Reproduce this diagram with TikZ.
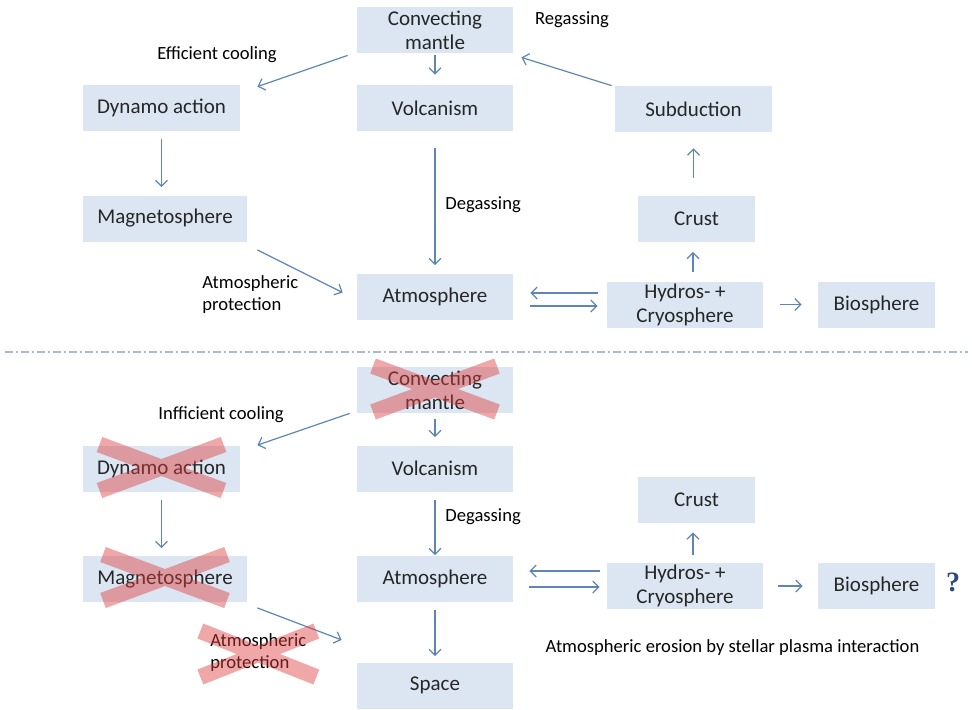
\documentclass[tikz,border=0pt]{standalone}
\usepackage{fontspec}
\setmainfont{Carlito}
\newfontfamily\qfont{Liberation Serif}
\usetikzlibrary{arrows.meta,calc}
\definecolor{boxfill}{HTML}{DCE6F2}
\definecolor{boxtext}{HTML}{262626}
\definecolor{linkblue}{HTML}{5F86B3}
\definecolor{crossred}{RGB}{220,60,60}
\definecolor{sepline}{HTML}{A8BBD3}
\definecolor{qblue}{HTML}{2F4B7C}
\tikzset{
    block/.style = {fill=boxfill, text=boxtext, rectangle,
        minimum height=23pt, minimum width=78pt, inner sep=0pt,
        font=\fontsize{10.5}{12}\selectfont, align=center},
    smallblock/.style = {block, minimum width=58.5pt},
    note/.style = {text=black, inner sep=0pt,
        font=\fontsize{9.3}{11}\selectfont, align=left},
    link/.style = {draw=linkblue, line width=0.6pt,
        -{Straight Barb[length=3pt,width=6pt]}},
    xband/.style = {draw=crossred, line width=8pt, draw opacity=0.45}
}
\newcommand{\strikebox}[1]{%
    \draw[xband] ([shift={(-62,-24)}]#1.center) -- ([shift={(62,22)}]#1.center)
        ([shift={(62,-24)}]#1.center) -- ([shift={(-62,22)}]#1.center);}

\begin{document}
\begin{tikzpicture}[x=0.5pt, y=-0.5pt]
    \useasboundingbox (0,0) rectangle (972,709);
    \fill[white] (0,0) rectangle (972,709);

    % upper cycle
    \node [block] (mantleA) at (435,30) {Convecting\\mantle};
    \node [block] (volcA) at (435,108) {Volcanism};
    \node [block, minimum width=78.5pt] (dynA) at (161.5,108) {Dynamo action};
    \node [block, minimum width=82pt] (magA) at (165,218.5) {Magnetosphere};
    \node [block] (atmA) at (435,296.5) {Atmosphere};
    \node [block, minimum width=78.5pt] (subA) at (693.5,109) {Subduction};
    \node [smallblock] (crustA) at (696.5,218.5) {Crust};
    \node [block] (hydA) at (685,304.5) {Hydros- +\\Cryosphere};
    \node [smallblock] (bioA) at (876.5,304.5) {Biosphere};

    \node [note] (coolA) at (217,55) {Efficient cooling};
    \node [note] (regasA) at (572,20) {Regassing};
    \node [note, anchor=west] (degasA) at (445,205) {Degassing};
    \node [note, anchor=west] (protA) at (202,295) {Atmospheric\\protection};

    \draw [link, shorten <=1pt, shorten >=5pt] (mantleA) -- (volcA);
    \draw [link, shorten <=4pt, shorten >=4pt] (dynA.south) -- (dynA.south |- magA.north);
    \draw [link, shorten <=8.5pt, shorten >=4pt] (volcA) -- (atmA);
    \draw [link, shorten <=8.5pt, shorten >=8pt] (subA.south |- crustA.north) -- (subA.south);
    \draw [link, shorten <=4.5pt, shorten >=5pt] ([xshift=4pt]hydA.north) -- ([xshift=4pt]hydA.north |- crustA.south);
    \draw [link, shorten <=8.5pt, shorten >=8pt] (hydA.east) -- (bioA.west);
    \draw [link] ([shift={(-9,-11.5)}]hydA.west) -- ([shift={(17,-3.5)}]atmA.east);
    \draw [link] ([shift={(17,9.5)}]atmA.east) -- ([shift={(-9,1.5)}]hydA.west);
    \draw [link] ([shift={(-9,2)}]mantleA.south west) -- ([shift={(17,2)}]dynA.north east);
    \draw [link] ([shift={(10,8)}]magA.south east) -- ([shift={(-14,-4)}]atmA.west);
    \draw [link] ([shift={(-3,0)}]subA.north west) -- ([shift={(8,4)}]mantleA.south east);

    % separator
    \coordinate (sepL) at (5,352);
    \coordinate (sepR) at (968,352);
    \draw [sepline, line width=1pt, dash pattern=on 4pt off 1.5pt on 1pt off 1.5pt] (sepL) -- (sepR);

    % lower cycle
    \node [block] (mantleB) at (435,390) {Convecting\\mantle};
    \node [block] (volcB) at (435,468.5) {Volcanism};
    \node [block] (atmB) at (435,578.5) {Atmosphere};
    \node [block] (spaceB) at (435,685.5) {Space};
    \node [block, minimum width=78.5pt] (dynB) at (161.5,468.5) {Dynamo action};
    \node [block, minimum width=82pt] (magB) at (165,578.5) {Magnetosphere};
    \node [smallblock] (crustB) at (696.5,500) {Crust};
    \node [block] (hydB) at (685,586) {Hydros- +\\Cryosphere};
    \node [smallblock] (bioB) at (876.5,586) {Biosphere};

    \node [note] (coolB) at (221,415) {Infficient cooling};
    \node [note, anchor=west] (degasB) at (445,517) {Degassing};
    \node [note, anchor=west] (protB) at (210,653) {Atmospheric\\protection};
    \node [note] (erosion) at (732.5,648) {Atmospheric erosion by stellar plasma interaction};
    \node [text=qblue, font=\qfont\bfseries\fontsize{14}{14}\selectfont] (query) at (953,582) {?};

    \draw [link, shorten <=3pt, shorten >=4pt] (mantleB) -- (volcB);
    \draw [link, shorten <=4pt, shorten >=3.5pt] (dynB.south) -- (dynB.south |- magB.north);
    \draw [link, shorten <=4pt] (volcB) -- (atmB);
    \draw [link, shorten <=4pt, shorten >=3pt] (atmB) -- (spaceB);
    \draw [link, shorten <=4pt, shorten >=4.5pt] ([xshift=4pt]hydB.north) -- ([xshift=4pt]hydB.north |- crustB.south);
    \draw [link, shorten <=7.5pt, shorten >=7.5pt] (hydB.east) -- (bioB.west);
    \draw [link] ([shift={(-7,-15)}]hydB.west) -- ([shift={(16,-7.5)}]atmB.east);
    \draw [link] ([shift={(16,8.5)}]atmB.east) -- ([shift={(-7,1)}]hydB.west);
    \draw [link] ([shift={(-7,0)}]mantleB.south west) -- ([shift={(17,0)}]dynB.north east);
    \draw [link] ([shift={(10,6)}]magB.south east) -- ([shift={(-15,38)}]atmB.south west);

    % crossed out
    \strikebox{mantleB}
    \strikebox{dynB}
    \strikebox{magB}
    \draw [xband] ([shift={(-58,-22)}]protB.center) -- ([shift={(58,24)}]protB.center)
        ([shift={(58,-22)}]protB.center) -- ([shift={(-58,24)}]protB.center);
\end{tikzpicture}
\end{document}
